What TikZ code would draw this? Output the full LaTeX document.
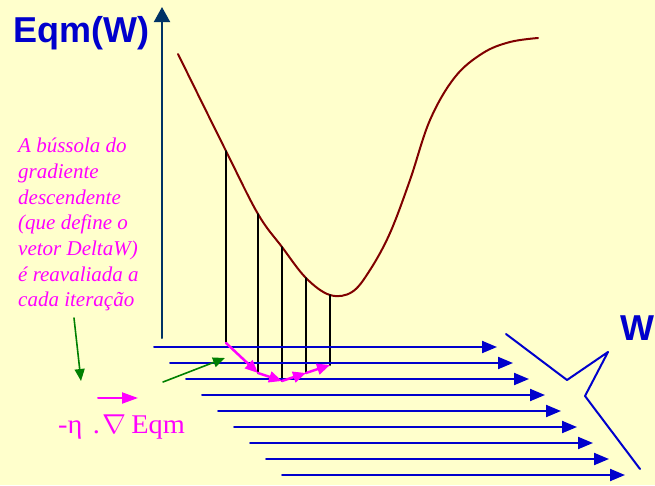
\documentclass[tikz,border=0pt]{standalone}
\usepackage{fontspec}
\setmainfont{Liberation Serif}
\setsansfont{Liberation Sans}
\usetikzlibrary{arrows.meta}
\definecolor{fundo}{HTML}{FFFFCC}
\definecolor{azul}{HTML}{0000CC}
\definecolor{eixo}{HTML}{003366}
\definecolor{rosa}{HTML}{FF00FF}
\definecolor{verde}{HTML}{008000}
\definecolor{curva}{HTML}{800000}
\begin{document}
\begin{tikzpicture}[x=1pt,y=-1pt,line join=round,line cap=round,
  seta/.style={line width=2pt,draw=azul,-{Triangle[length=15pt,width=12pt]}},
  passo/.style={line width=2.5pt,draw=rosa,-{Triangle[length=13pt,width=11pt]}},
  dica/.style={line width=1.6pt,draw=verde,-{Triangle[length=12pt,width=10pt]}},
  rotulo/.style={font=\sffamily\bfseries\fontsize{36}{40}\selectfont,text=azul,inner sep=0pt}]
\fill[fundo] (0,0) rectangle (655,485);
\useasboundingbox (0,0) rectangle (655,485);
\path
(162,338) coordinate (O)
(162,7) coordinate (Y)
(74,318) coordinate (n0) (81,381) coordinate (n1)
(163,382) coordinate (m0) (225,358) coordinate (m1)
(98,398) coordinate (v0) (138,398) coordinate (v1)
;
% eixo vertical
\draw[line width=2pt,eixo,-{Triangle[length=15pt,width=16pt]}] (O)--(Y);
% curva do erro
\draw[line width=2pt,curva] plot[smooth,tension=0.6] coordinates
{(178,54) (226,151) (258,214) (282,247) (306,278) (330,295) (352,292) (370,270)
 (390,233) (410,180) (430,120) (455,77) (483,53) (510,42) (538,38)};
% pontos na curva e passos
\foreach \i/\x/\t/\b in {1/226/151/343, 2/258/214/373, 3/282/247/381, 4/306/278/373, 5/330/295/365}
{\path (\x,\t) coordinate (c\i) (\x,\b) coordinate (g\i);
 \draw[line width=2pt] (c\i)--(g\i);}
% eixo W
\foreach \i in {0,...,8}
\draw[seta] (154+16*\i,347+16*\i) coordinate (s\i) -- ++(343,0) coordinate (e\i);
\draw[line width=2pt,azul] (506,334) coordinate (w0)--(567,380) coordinate (w1)
--(608,352) coordinate (w2)--(585,396) coordinate (w3)--(640,469) coordinate (w4);
\foreach \a/\b in {1/2,2/3,3/4,4/5}
\draw[passo] (g\a)--(g\b);
% textos
\node[rotulo,anchor=base west] (ylab) at (13,42) {Eqm(W)};
\node[rotulo,anchor=base west] (xlab) at (620,340) {W};
\node[anchor=north west,align=left,inner sep=0pt,text=rosa,
 font=\rmfamily\itshape\fontsize{21}{25.7}\selectfont] (nota) at (18,138)
{A bússola do\\gradiente\\descendente\\(que define o\\vetor DeltaW)\\é reavaliada a\\cada iteração};
\node[anchor=base west,inner sep=0pt,text=rosa,font=\fontsize{27}{30}\selectfont] (grad) at (58,433)
{\scalebox{1.05}[1]{-η\hspace{10pt}.\hspace{2pt}\scalebox{1.1}{$\nabla$}\hspace{5pt}Eqm}};
\draw[passo,line width=2pt,-{Triangle[length=16pt,width=11pt]}] (v0)--(v1);
\draw[dica] (n0)--(n1);
\draw[dica] (m0)--(m1);
\end{tikzpicture}
\end{document}
